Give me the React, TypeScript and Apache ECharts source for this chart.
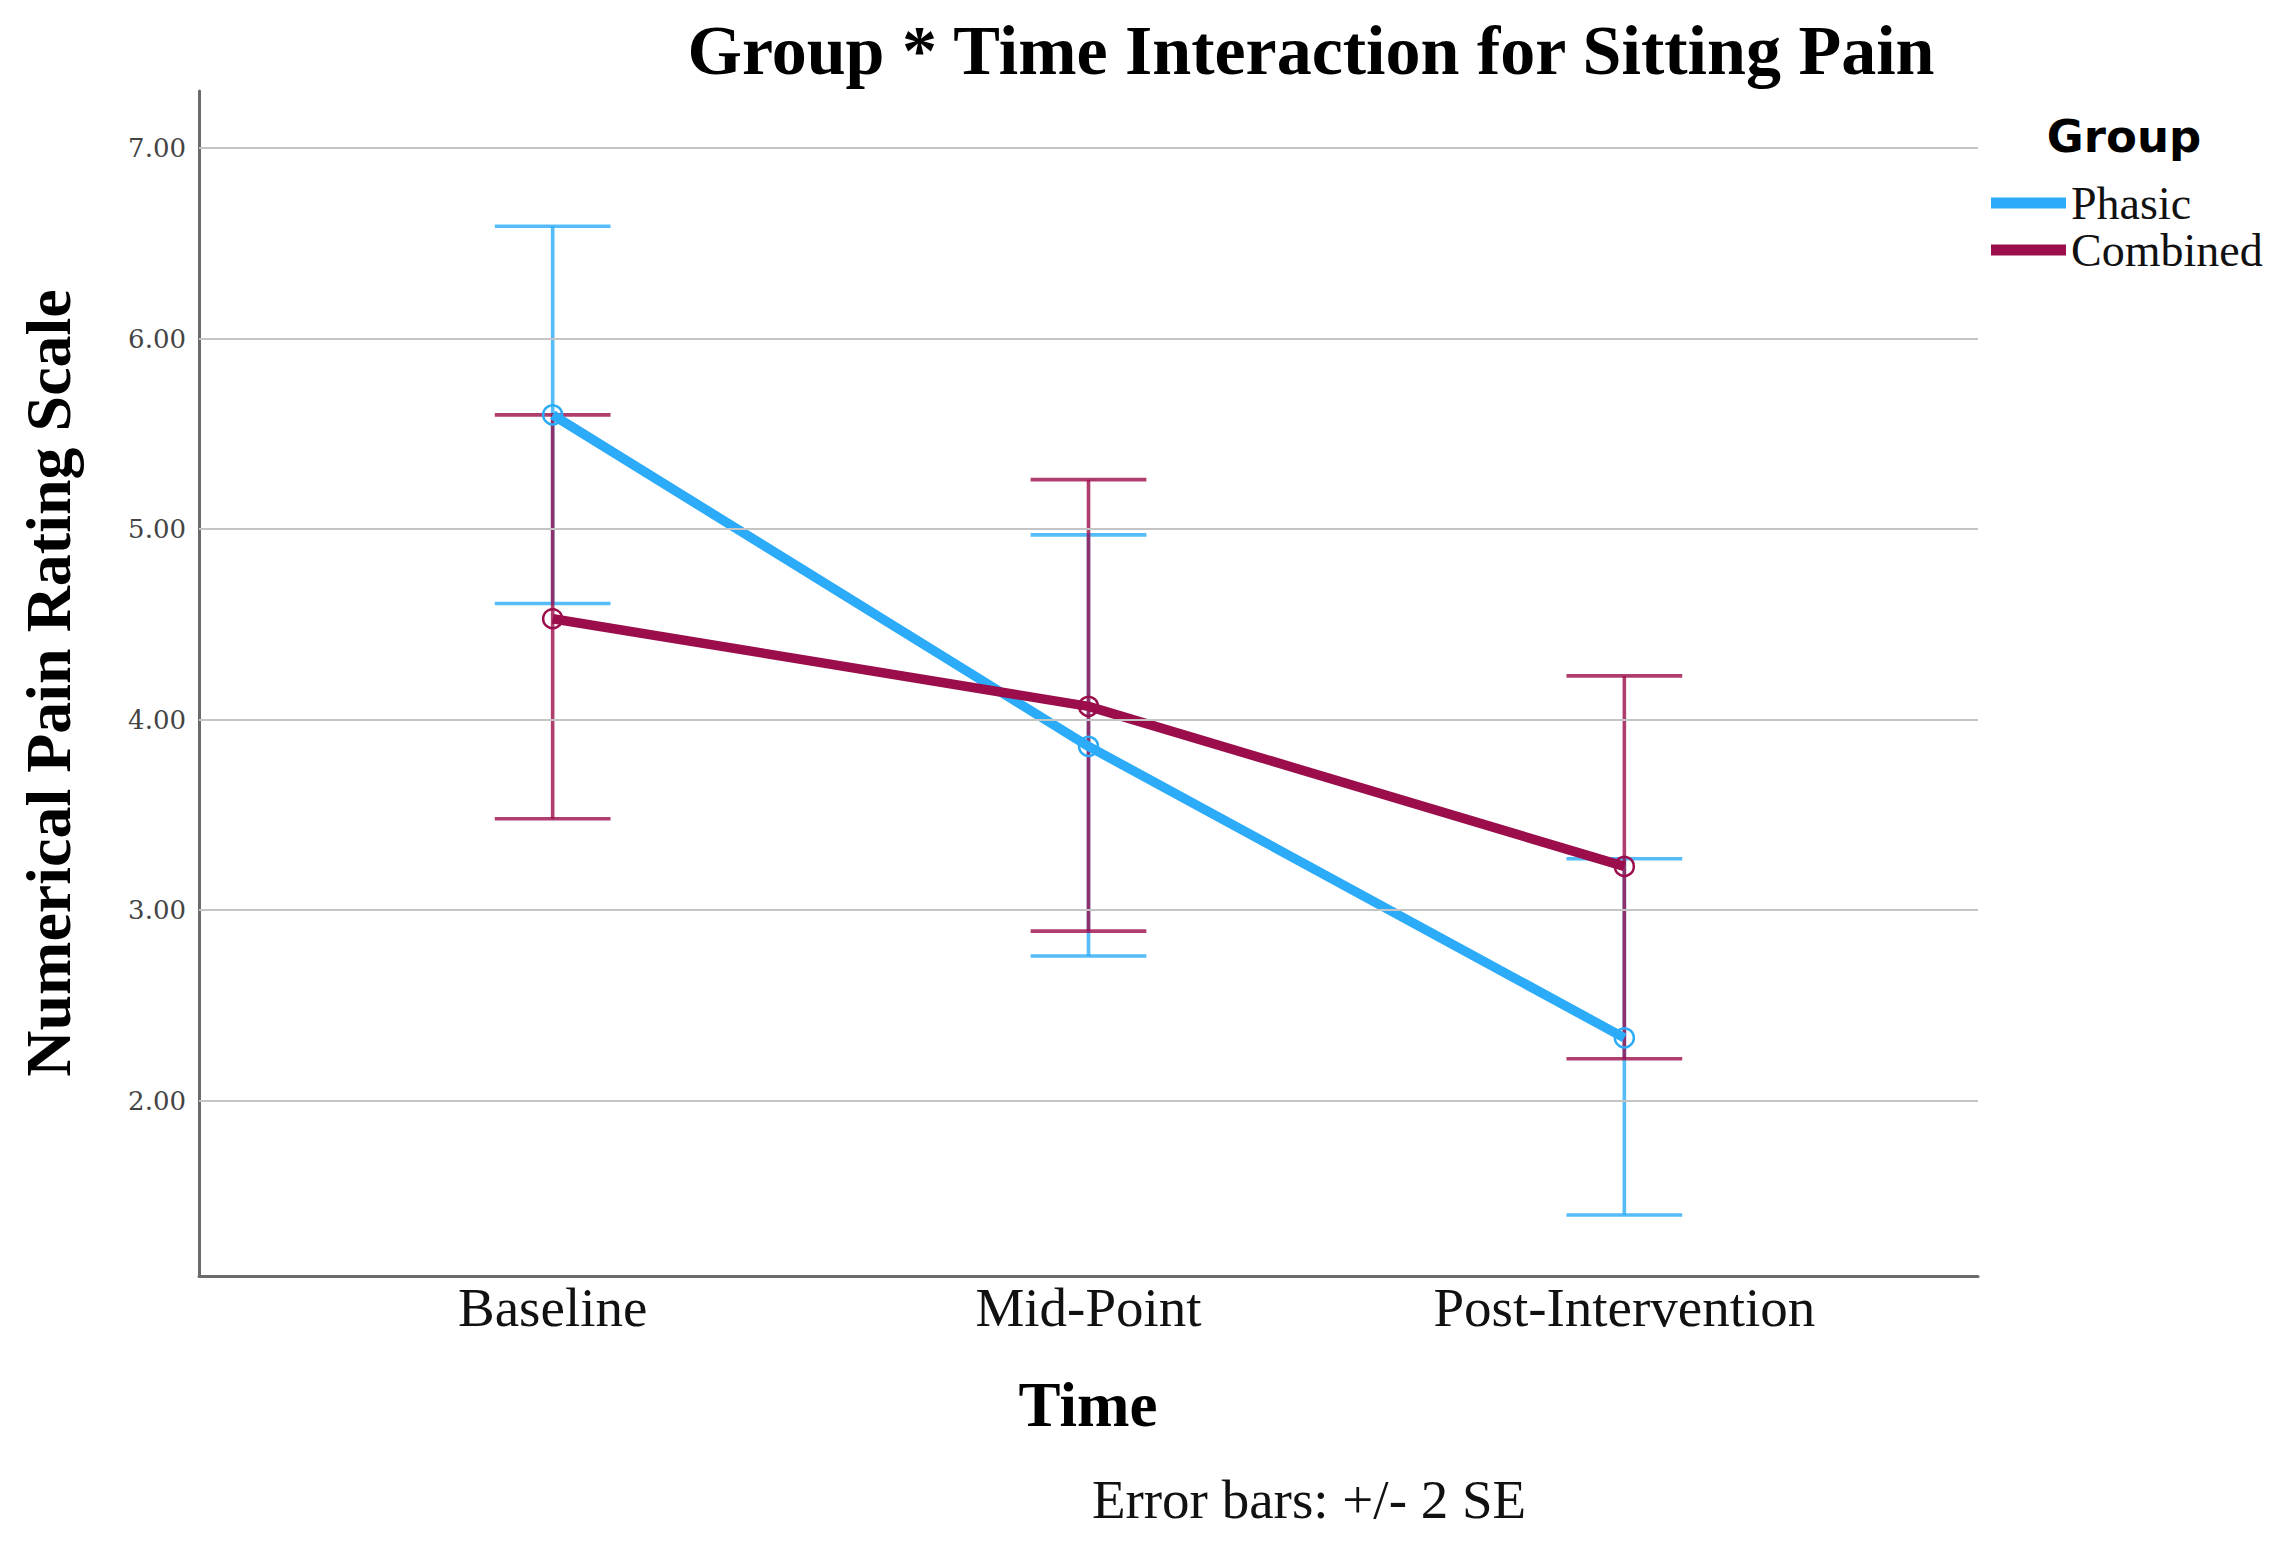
import React, { useEffect, useRef } from "react";
import * as echarts from "echarts";

const categories = ["Baseline", "Mid-Point", "Post-Intervention"];
const yTicks = [2, 3, 4, 5, 6, 7];
const phasicMean = [5.6, 3.86, 2.33];
const phasicLow = [4.61, 2.76, 1.4];
const phasicHigh = [6.59, 4.97, 3.27];
const combinedMean = [4.53, 4.07, 3.23];
const combinedLow = [3.48, 2.89, 2.22];
const combinedHigh = [5.6, 5.26, 4.23];

const BLUE = "#2BABF8";
const MAROON = "#9B0E4B";
const SERIF = "'Liberation Serif', 'DejaVu Serif', serif";

function errData(low: number[], high: number[]) {
  return low.map((l, i) => [i, l, high[i]]);
}

function errSeries(name: string, color: string, low: number[], high: number[]) {
  return {
    type: "custom",
    name: name + " error",
    z: 3,
    silent: true,
    data: errData(low, high),
    renderItem: (params: any, api: any) => {
      const x = api.value(0);
      const lo = api.coord([x, api.value(1)]);
      const hi = api.coord([x, api.value(2)]);
      const half = api.size([0.108, 0])[0];
      const style = { stroke: color, lineWidth: 3.6, opacity: 0.8 };
      return {
        type: "group",
        children: [
          { type: "line", shape: { x1: lo[0], y1: lo[1], x2: hi[0], y2: hi[1] }, style },
          { type: "line", shape: { x1: lo[0] - half, y1: lo[1], x2: lo[0] + half, y2: lo[1] }, style },
          { type: "line", shape: { x1: hi[0] - half, y1: hi[1], x2: hi[0] + half, y2: hi[1] }, style },
        ],
      };
    },
  };
}

function lineSeries(name: string, color: string, mean: number[]) {
  return {
    type: "line",
    name,
    z: 4,
    data: mean.map((v, i) => [i, v]),
    symbol: "circle",
    symbolSize: 19,
    showSymbol: true,
    lineStyle: { color, width: 9.5 },
    itemStyle: { color: "rgba(255,255,255,0)", borderColor: color, borderWidth: 2.5 },
    emphasis: { disabled: true },
  };
}

export default function App() {
  const ref = useRef<HTMLDivElement>(null);
  useEffect(() => {
    if (!ref.current) return;
    const chart = echarts.init(ref.current, null, { renderer: "svg" });
    const option: any = {
      animation: false,
      backgroundColor: "#ffffff",
      grid: { left: 199, right: 297, top: 91, bottom: 265 },
      legend: {
        orient: "vertical",
        left: 1986,
        top: 175,
        icon: "rect",
        itemWidth: 73,
        itemHeight: 9,
        itemGap: 1,
        selectedMode: false,
        data: [
          { name: "Phasic", itemStyle: { color: BLUE } },
          { name: "Combined", itemStyle: { color: MAROON } },
        ],
        textStyle: {
          fontFamily: SERIF,
          fontSize: 46,
          color: "#111",
          lineHeight: 40,
          padding: [0, 0, 0, 1],
        },
      },
      xAxis: {
        type: "value",
        min: -0.66,
        max: 2.66,
        splitLine: { show: false },
        axisTick: { show: false },
        axisLine: { show: true, onZero: false, lineStyle: { color: "#6b6b6b", width: 3 } },
        axisLabel: {
          customValues: [0, 1, 2],
          formatter: (v: number) => categories[Math.round(v)] ?? "",
          fontFamily: SERIF,
          fontSize: 55,
          color: "#111",
          margin: 4,
        },
      },
      yAxis: {
        type: "value",
        min: 1.08,
        max: 7.3,
        splitLine: { show: false },
        axisTick: { show: false },
        axisLine: { show: true, onZero: false, lineStyle: { color: "#6b6b6b", width: 3 } },
        axisLabel: {
          customValues: yTicks,
          formatter: (v: number) => v.toFixed(2),
          fontFamily: "'DejaVu Serif', serif",
          fontSize: 26,
          color: "#444",
          margin: 13,
        },
      },
      series: [
        {
          type: "line",
          name: "grid",
          data: [],
          silent: true,
          z: 1,
          markLine: {
            silent: true,
            symbol: "none",
            label: { show: false },
            lineStyle: { color: "#c4c4c4", width: 2.2, type: "solid" },
            data: yTicks.map((t) => ({ yAxis: t })),
          },
        },
        errSeries("Phasic", BLUE, phasicLow, phasicHigh),
        errSeries("Combined", MAROON, combinedLow, combinedHigh),
        lineSeries("Phasic", BLUE, phasicMean),
        lineSeries("Combined", MAROON, combinedMean),
      ],
      graphic: [
        {
          type: "text",
          x: 1311,
          y: 50,
          style: {
            text: "Group * Time Interaction for Sitting Pain",
            fontFamily: SERIF,
            fontWeight: "bold",
            fontSize: 70,
            fill: "#000",
            textAlign: "center",
            textVerticalAlign: "middle",
          },
        },
        {
          type: "text",
          x: 48,
          y: 683,
          rotation: Math.PI / 2,
          style: {
            text: "Numerical Pain Rating Scale",
            fontFamily: SERIF,
            fontWeight: "bold",
            fontSize: 64,
            fill: "#000",
            textAlign: "center",
            textVerticalAlign: "middle",
          },
        },
        {
          type: "text",
          x: 1088,
          y: 1405,
          style: {
            text: "Time",
            fontFamily: SERIF,
            fontWeight: "bold",
            fontSize: 63,
            fill: "#000",
            textAlign: "center",
            textVerticalAlign: "middle",
          },
        },
        {
          type: "text",
          x: 1309,
          y: 1499,
          style: {
            text: "Error bars: +/- 2 SE",
            fontFamily: SERIF,
            fontSize: 55,
            fill: "#111",
            textAlign: "center",
            textVerticalAlign: "middle",
          },
        },
        {
          type: "text",
          x: 2124,
          y: 136,
          style: {
            text: "Group",
            fontFamily: "'DejaVu Sans', sans-serif",
            fontWeight: "bold",
            fontSize: 45,
            fill: "#000",
            textAlign: "center",
            textVerticalAlign: "middle",
          },
        },
      ],
    };
    chart.setOption(option);
    return () => chart.dispose();
  }, []);
  return (
    <div
      ref={ref}
      style={{ position: "fixed", left: 0, top: 0, width: 2275, height: 1541, background: "#fff" }}
    />
  );
}
